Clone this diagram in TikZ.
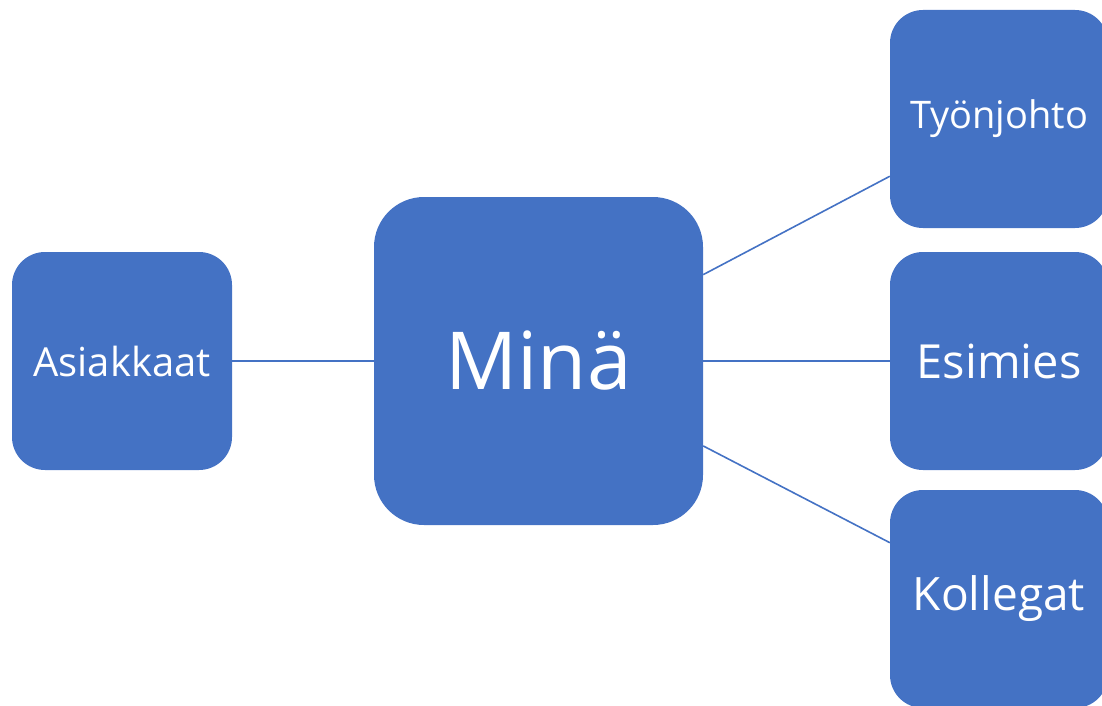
\documentclass[tikz,border=0pt]{standalone}
\usepackage{fontspec}
\setmainfont{Open Sans}
\usepackage{tikz}
\usetikzlibrary{positioning}
\usepackage{xcolor}
\definecolor{officeblue}{HTML}{4472C4}

\begin{document}
\begin{tikzpicture}[
    x=1pt, y=-1pt,
    box/.style={rectangle, fill=officeblue, text=white, inner sep=0pt, rounded corners=33pt, minimum width=#1, minimum height=218pt, align=center},
    box/.default=218pt,
    link/.style={draw=officeblue, line width=1.6pt}
]
\useasboundingbox (0,0) rectangle (1102,706);
\clip (0,0) rectangle (1102,706);

% Centre
\node[box=329pt, minimum height=328pt, rounded corners=50pt, font=\fontsize{80}{84}\selectfont] (mina) at (538.5,361) {Minä};

% Left
\node[box=220pt, font=\fontsize{40}{44}\selectfont] (asiakkaat) at (122,361) {Asiakkaat};

% Right column
\node[box, font=\fontsize{38}{42}\selectfont] (tyonjohto) at (999,119) {Työnjohto};
\node[box, font=\fontsize{47}{51}\selectfont] (esimies) at (999,361) {Esimies};
\node[box, font=\fontsize{46}{50}\selectfont] (kollegat) at (999,599) {Kollegat};

% Links
\draw[link] (asiakkaat) -- (mina);
\draw[link] (mina) -- (tyonjohto);
\draw[link] (mina) -- (esimies);
\draw[link] (mina) -- (kollegat);

\end{tikzpicture}
\end{document}
